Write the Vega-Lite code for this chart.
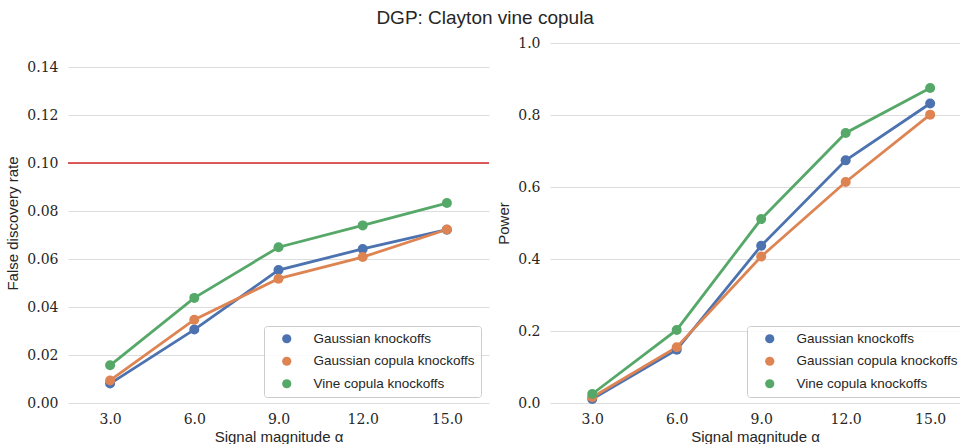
{
  "$schema": "https://vega.github.io/schema/vega-lite/v6.json",
  "padding": {"left": 5, "top": 9, "right": 0, "bottom": 0},
  "background": "white",
  "title": {"text": "DGP: Clayton vine copula", "fontSize": 19, "font": "Liberation Sans", "fontWeight": "normal", "color": "#262626", "anchor": "middle", "offset": 8},
  "datasets": {
    "fdr": [
      {"alpha": 3, "method": "Gaussian knockoffs", "value": 0.0081},
      {"alpha": 6, "method": "Gaussian knockoffs", "value": 0.0306},
      {"alpha": 9, "method": "Gaussian knockoffs", "value": 0.0554},
      {"alpha": 12, "method": "Gaussian knockoffs", "value": 0.0642},
      {"alpha": 15, "method": "Gaussian knockoffs", "value": 0.0722},
      {"alpha": 3, "method": "Gaussian copula knockoffs", "value": 0.0094},
      {"alpha": 6, "method": "Gaussian copula knockoffs", "value": 0.0347},
      {"alpha": 9, "method": "Gaussian copula knockoffs", "value": 0.0518},
      {"alpha": 12, "method": "Gaussian copula knockoffs", "value": 0.0608},
      {"alpha": 15, "method": "Gaussian copula knockoffs", "value": 0.0723},
      {"alpha": 3, "method": "Vine copula knockoffs", "value": 0.0157},
      {"alpha": 6, "method": "Vine copula knockoffs", "value": 0.0438},
      {"alpha": 9, "method": "Vine copula knockoffs", "value": 0.0649},
      {"alpha": 12, "method": "Vine copula knockoffs", "value": 0.0740},
      {"alpha": 15, "method": "Vine copula knockoffs", "value": 0.0833}
    ],
    "power": [
      {"alpha": 3, "method": "Gaussian knockoffs", "value": 0.011},
      {"alpha": 6, "method": "Gaussian knockoffs", "value": 0.148},
      {"alpha": 9, "method": "Gaussian knockoffs", "value": 0.437},
      {"alpha": 12, "method": "Gaussian knockoffs", "value": 0.674},
      {"alpha": 15, "method": "Gaussian knockoffs", "value": 0.832},
      {"alpha": 3, "method": "Gaussian copula knockoffs", "value": 0.016},
      {"alpha": 6, "method": "Gaussian copula knockoffs", "value": 0.155},
      {"alpha": 9, "method": "Gaussian copula knockoffs", "value": 0.407},
      {"alpha": 12, "method": "Gaussian copula knockoffs", "value": 0.614},
      {"alpha": 15, "method": "Gaussian copula knockoffs", "value": 0.801},
      {"alpha": 3, "method": "Vine copula knockoffs", "value": 0.025},
      {"alpha": 6, "method": "Vine copula knockoffs", "value": 0.203},
      {"alpha": 9, "method": "Vine copula knockoffs", "value": 0.511},
      {"alpha": 12, "method": "Vine copula knockoffs", "value": 0.750},
      {"alpha": 15, "method": "Vine copula knockoffs", "value": 0.875}
    ],
    "threshold": [{"level": 0.1}]
  },
  "config": {
    "view": {"stroke": null},
    "axis": {
      "labelFont": "DejaVu Serif", "labelFontSize": 14, "labelColor": "#262626",
      "titleFont": "Liberation Sans", "titleFontSize": 15, "titleFontWeight": "normal", "titleColor": "#262626",
      "gridColor": "#dddddd", "gridWidth": 1, "domain": false, "ticks": false
    },
    "axisX": {"labelPadding": 9, "titlePadding": 3, "grid": false},
    "axisY": {"labelPadding": 10, "titlePadding": 6},
    "legend": {
      "labelFont": "Liberation Sans", "labelFontSize": 13.5, "labelColor": "#262626", "labelLimit": 400,
      "symbolType": "circle", "symbolSize": 85, "symbolStrokeWidth": 0,
      "strokeColor": "#cccccc", "fillColor": "rgba(255,255,255,0.85)", "cornerRadius": 3,
      "padding": 6, "rowPadding": 7.5, "symbolOffset": 10, "labelOffset": 20
    }
  },
  "spacing": 6,
  "resolve": {"legend": {"color": "independent"}},
  "hconcat": [
    {
      "width": 421, "height": 360,
      "layer": [
        {
          "data": {"name": "threshold"},
          "mark": {"type": "rule", "color": "#d62728", "strokeWidth": 1.3},
          "encoding": {"y": {"field": "level", "type": "quantitative", "scale": {"domain": [0, 0.15], "nice": false}}}
        },
        {
          "data": {"name": "fdr"},
          "mark": {"type": "line", "strokeWidth": 2.8},
          "encoding": {
            "x": {"field": "alpha", "type": "quantitative", "scale": {"domain": [1.5, 16.5], "nice": false, "zero": false},
                  "axis": {"values": [3, 6, 9, 12, 15], "format": ".1f", "labelFlush": false, "title": "Signal magnitude α"}},
            "y": {"field": "value", "type": "quantitative", "scale": {"domain": [0, 0.15], "nice": false},
                  "axis": {"values": [0, 0.02, 0.04, 0.06, 0.08, 0.1, 0.12, 0.14], "format": ".2f", "title": "False discovery rate"}},
            "color": {"field": "method", "type": "nominal",
                      "scale": {"domain": ["Gaussian knockoffs", "Gaussian copula knockoffs", "Vine copula knockoffs"], "range": ["#4c72b0", "#dd8452", "#55a868"]},
                      "legend": {"title": null, "orient": "none", "legendX": 196, "legendY": 283}},
            "order": {"field": "alpha", "type": "quantitative"}
          }
        },
        {
          "data": {"name": "fdr"},
          "mark": {"type": "circle", "size": 100, "opacity": 1},
          "encoding": {
            "x": {"field": "alpha", "type": "quantitative"},
            "y": {"field": "value", "type": "quantitative"},
            "color": {"field": "method", "type": "nominal"}
          }
        }
      ]
    },
    {
      "width": 410, "height": 360,
      "layer": [
        {
          "data": {"name": "power"},
          "mark": {"type": "line", "strokeWidth": 2.8},
          "encoding": {
            "x": {"field": "alpha", "type": "quantitative", "scale": {"domain": [1.5, 16.06], "nice": false, "zero": false},
                  "axis": {"values": [3, 6, 9, 12, 15], "format": ".1f", "labelFlush": false, "title": "Signal magnitude α"}},
            "y": {"field": "value", "type": "quantitative", "scale": {"domain": [0, 1], "nice": false},
                  "axis": {"values": [0, 0.2, 0.4, 0.6, 0.8, 1.0], "format": ".1f", "title": "Power"}},
            "color": {"field": "method", "type": "nominal",
                      "scale": {"domain": ["Gaussian knockoffs", "Gaussian copula knockoffs", "Vine copula knockoffs"], "range": ["#4c72b0", "#dd8452", "#55a868"]},
                      "legend": {"title": null, "orient": "none", "legendX": 197, "legendY": 283}},
            "order": {"field": "alpha", "type": "quantitative"}
          }
        },
        {
          "data": {"name": "power"},
          "mark": {"type": "circle", "size": 100, "opacity": 1},
          "encoding": {
            "x": {"field": "alpha", "type": "quantitative"},
            "y": {"field": "value", "type": "quantitative"},
            "color": {"field": "method", "type": "nominal"}
          }
        }
      ]
    }
  ]
}
